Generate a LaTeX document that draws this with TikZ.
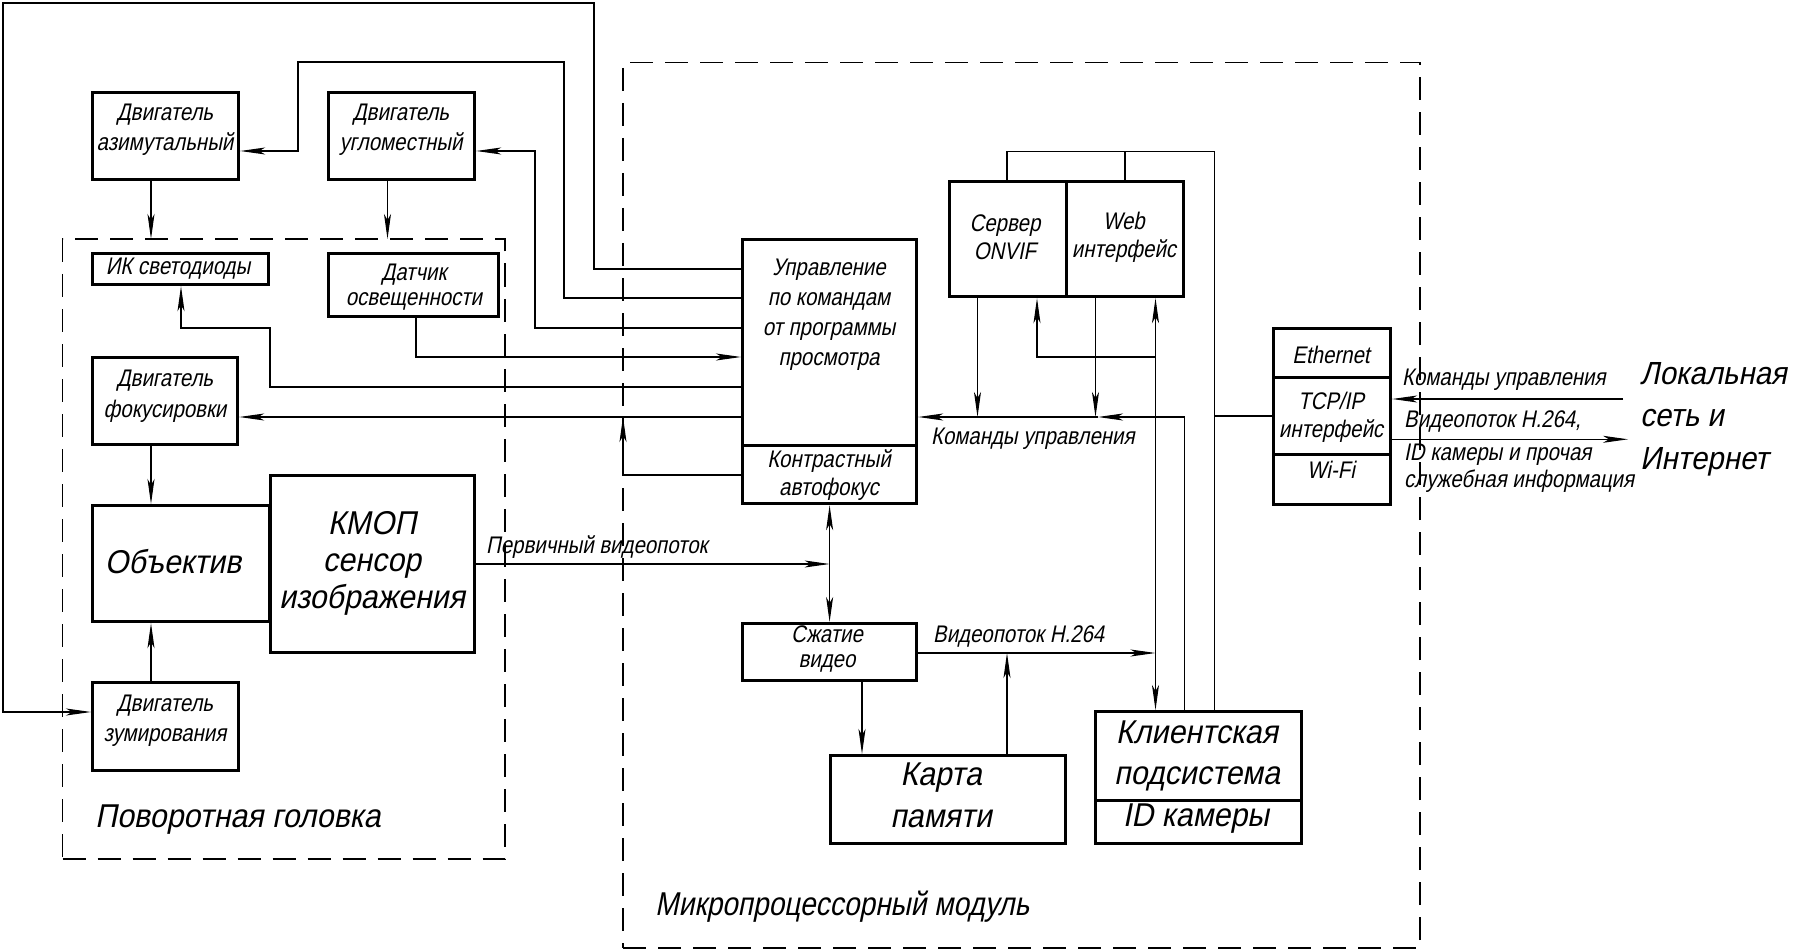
\documentclass[tikz,border=0pt]{standalone}
\usepackage{fontspec}
\newfontfamily\gost{Liberation Sans}[FakeSlant=0.2,FakeStretch=0.85]
\newfontfamily\gostL{Liberation Sans}[FakeSlant=0.2,FakeStretch=0.92]
\newcommand\fs[2]{\gost\fontsize{#1}{#2}\selectfont}
\newcommand\fl[2]{\gostL\fontsize{#1}{#2}\selectfont}
\usetikzlibrary{arrows.meta}
\begin{document}
\begin{tikzpicture}[x=1pt,y=-1pt,
  blk/.style={draw, line width=3.2pt, inner sep=0pt, anchor=north west},
  dbox/.style={draw, line width=1.4pt, dash pattern=on 23pt off 12pt, inner sep=0pt, outer sep=0pt, anchor=north west},
  ln/.style={line width=1.1pt},
  >={Stealth[length=25pt,width=7pt,inset=6pt]},
  st/.style={font={\fs{24}{30}}, align=center, inner sep=0pt},
  lt/.style={font={\fl{33}{42}}, align=center, inner sep=0pt}]
\fill[white] (0,0) rectangle (1797,952);
\useasboundingbox (0,0) rectangle (1797,952);

% dashed groups
\node[dbox, minimum width=442.5pt, minimum height=620pt] (head) at (62.5,239) {};
\node[dbox, minimum width=797pt, minimum height=885.5pt] (mpu) at (623,62.5) {};

% boxes
\node[blk, minimum width=146pt, minimum height=87pt] (azim) at (91,91) {};
\node[blk, minimum width=146pt, minimum height=87pt] (ugl) at (327,91) {};
\node[blk, minimum width=176pt, minimum height=31pt] (ik) at (91,252) {};
\node[blk, minimum width=170pt, minimum height=63pt] (dat) at (327,252) {};
\node[blk, minimum width=145pt, minimum height=87pt] (foc) at (91,356) {};
\node[blk, minimum width=177pt, minimum height=116pt] (obj) at (91,504) {};
\node[blk, minimum width=204pt, minimum height=177pt] (kmop) at (269,474) {};
\node[blk, minimum width=146pt, minimum height=88pt] (zoomm) at (91,681) {};
\node[blk, minimum width=174pt, minimum height=206pt] (upr) at (741,238) {};
\node[blk, minimum width=174pt, minimum height=58pt] (kaf) at (741,444) {};
\node[blk, minimum width=116.5pt, minimum height=115pt] (onvif) at (948,180) {};
\node[blk, minimum width=117.5pt, minimum height=115pt] (web) at (1064.5,180) {};
\node[blk, minimum width=174pt, minimum height=57pt] (szh) at (741,622) {};
\node[blk, minimum width=235pt, minimum height=88pt] (karta) at (829,754) {};
\node[blk, minimum width=206pt, minimum height=89pt] (client) at (1094,710) {};
\node[blk, minimum width=206pt, minimum height=43pt] (clid) at (1094,799) {};
\node[blk, minimum width=117pt, minimum height=49pt] (eth) at (1272,327) {};
\node[blk, minimum width=117pt, minimum height=77pt] (tcp) at (1272,376) {};
\node[blk, minimum width=117pt, minimum height=50pt] (wifi) at (1272,453) {};

% texts
\node[st] (tazim) at (165,130) {Двигатель\\азимутальный};
\node[st] (tugl) at (401,130) {Двигатель\\угломестный};
\node[st] (tik) at (178,269) {ИК светодиоды};
\node[st, font={\fs{24}{25}}] (tdat) at (414,287.5) {Датчик\\освещенности};
\node[st, font={\fs{24}{31.5}}] (tfoc) at (165,396) {Двигатель\\фокусировки};
\node[lt] (tobj) at (173,562) {Объектив};
\node[lt, font={\fl{33}{37}}] (tkmop) at (372,563.3) {КМОП\\сенсор\\изображения};
\node[st] (tzoom) at (165,721) {Двигатель\\зумирования};
\node[lt, anchor=west] (thead) at (95,820) {Поворотная головка};
\node[st, anchor=west] (tprim) at (486,547) {Первичный видеопоток};
\node[st, font={\fs{24}{29.7}}] (tupr) at (829,314.7) {Управление\\по командам\\от программы\\просмотра};
\node[st, font={\fs{24}{28.3}}] (tkaf) at (829,475) {Контрастный\\автофокус};
\node[st, font={\fs{24}{28.4}}] (tonvif) at (1005,237.5) {Сервер\\ONVIF};
\node[st, font={\fs{24}{28.4}}] (tweb) at (1124,237.5) {Web\\интерфейс};
\node[st, anchor=west] (tcmd) at (931,438.3) {Команды управления};
\node[st, font={\fs{24}{25}}] (tszh) at (827,649) {Сжатие\\видео};
\node[st, anchor=west] (th264) at (933,636.7) {Видеопоток H.264};
\node[lt, font={\fl{33}{42.4}}] (tkarta) at (941,795.5) {Карта\\памяти};
\node[lt, font={\fl{33}{41.7}}] (tclient) at (1197,756) {Клиентская\\подсистема};
\node[lt] (tclid) at (1196,818.3) {ID камеры};
\node[lt, anchor=west, font={\fs{33}{42}}] (tmpu) at (655,907) {Микропроцессорный модуль};
\node[st] (teth) at (1331,355) {Ethernet};
\node[st, font={\fs{24}{28.4}}] (ttcp) at (1331,417.5) {TCP/IP\\интерфейс};
\node[st] (twifi) at (1331,470) {Wi-Fi};
\node[st, anchor=west] (trcmd) at (1402,380) {Команды управления};
\node[st, anchor=west] (trvid) at (1404,421.7) {Видеопоток H.264,};
\node[st, anchor=west, align=left, font={\fs{24}{26.7}}] (trinfo) at (1404,468.3) {ID камеры и прочая\\служебная информация};
\node[lt, anchor=west, align=left, font={\fl{32}{42.5}}] (tnet) at (1640,419.2) {Локальная\\сеть и\\Интернет};

% connectors
\draw[ln,->] (upr.west |- 0,269) -- (594,269) -- (594,3) -- (3,3) -- (3,712) -- (zoomm.west |- 0,712);
\draw[ln,->] (upr.west |- 0,298) -- (564,298) -- (564,62) -- (298,62) -- (298,151) -- (azim.east |- 0,151);
\draw[ln,->] (upr.west |- 0,328) -- (535,328) -- (535,151) -- (ugl.east |- 0,151);
\draw[ln,->] (416,0 |- dat.south) -- (416,357) -- (upr.west |- 0,357);
\draw[ln,->] (upr.west |- 0,387) -- (270,387) -- (270,328) -- (181,328) -- (181,0 |- ik.south);
\draw[ln,->] (upr.west |- 0,417) -- (foc.east |- 0,417);
\coordinate (fk) at (623,417);
\draw[ln,->] (kaf.west |- 0,475) -- (623,475) -- (fk);
\draw[ln,->] (151,0 |- azim.south) -- (151,0 |- head.north);
\draw[ln,->] (387.5,0 |- ugl.south) -- (387.5,0 |- head.north);
\draw[ln,->] (151,0 |- foc.south) -- (151,0 |- obj.north);
\draw[ln,->] (151,0 |- zoomm.north) -- (151,0 |- obj.south);
\coordinate (j1) at (kaf.south |- 0,564);
\draw[ln,->] (kmop.east |- 0,564) -- (j1);
\draw[ln,<->] (kaf.south) -- (szh.north);
\coordinate (j2) at (1155.5,653);
\draw[ln,->] (szh.east |- 0,653) -- (j2);
\draw[ln,<->] (1155.5,0 |- web.south) -- (1155.5,0 |- client.north);
\draw[ln,->] (1155.5,357) -- (1037,357) -- (1037,0 |- onvif.south);
\draw[ln,->] (1007,0 |- karta.north) -- (j2 -| 1007,0);
\draw[ln,->] (862,0 |- szh.south) -- (862,0 |- karta.north);
\coordinate (cm) at (1098,417);
\draw[ln,->] (977.5,0 |- onvif.south) -- (977.5,417);
\draw[ln,->] (1095.5,0 |- web.south) -- (1095.5,417);
\draw[ln,->] (1184.5,0 |- client.north) -- (1184.5,417) -- (cm);
\draw[ln,->] (cm) -- (upr.east |- 0,417);
\draw[ln] (1007,0 |- onvif.north) -- (1007,151.7) -- (1214.3,151.7) -- (1214.3,0 |- client.north);
\draw[ln] (1125,0 |- web.north) -- (1125,151.7);
\draw[ln] (tcp.west |- 0,416) -- (1214.3,416);
\coordinate (rin) at (1623,399);
\coordinate (rout) at (1628,439.3);
\draw[ln,->] (rin) -- (tcp.east |- rin);
\draw[ln,->] (tcp.east |- rout) -- (rout);
\end{tikzpicture}
\end{document}
